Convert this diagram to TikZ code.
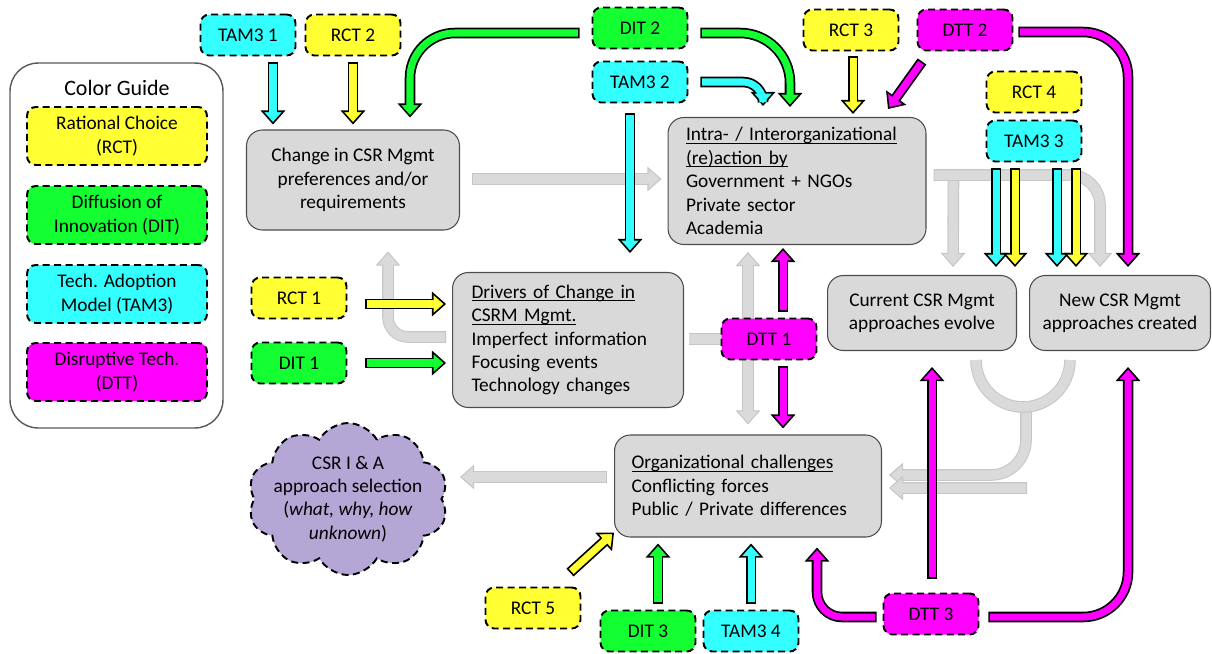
\documentclass[tikz,border=0pt]{standalone}
\usepackage{fontspec}
\setmainfont{Carlito}
\usetikzlibrary{arrows.meta, calc, positioning, shapes.symbols, backgrounds}

\definecolor{rctyellow}{RGB}{255,255,51}
\definecolor{ditgreen}{RGB}{20,255,50}
\definecolor{tamcyan}{RGB}{51,255,255}
\definecolor{dttmagenta}{RGB}{255,0,255}
\definecolor{boxgray}{RGB}{217,217,217}
\definecolor{cloudlav}{RGB}{180,167,214}
\definecolor{ghostfill}{RGB}{218,218,218}
\definecolor{ghostline}{RGB}{198,198,198}

\newcommand{\headline}[1]{\underline{\smash{#1}}\vphantom{#1}}

\tikzset{
  tag/.style={draw=black, fill=#1, line width=1.1pt, dash pattern=on 4pt off 2.5pt, rounded corners=5pt, minimum width=1.9cm, minimum height=0.82cm, inner sep=0pt},
  legend/.style={tag=#1, minimum width=3.6cm, minimum height=1.16cm, align=center},
  stage/.style={draw=black!70, fill=boxgray, line width=0.6pt, rounded corners=9pt, inner sep=0pt},
  fat/.style={draw=#1, line width=4pt, shorten <=1pt, shorten >=6.5pt,
    preaction={draw=black, line width=6pt, shorten <=0pt, shorten >=0pt,
      -{Triangle[length=8pt, width=14pt, line width=0.9pt, fill=#1]}}},
  ghost/.style={draw=ghostfill, line width=5.4pt, shorten <=0.6pt, shorten >=7pt,
    preaction={draw=ghostline, line width=6.6pt, shorten <=0pt, shorten >=0pt,
      -{Triangle[length=8pt, width=14pt, line width=0.6pt, fill=ghostfill]}}},
  ghostbar/.style={draw=ghostfill, line width=5.4pt, preaction={draw=ghostline, line width=6.6pt}},
}

\begin{document}
\begin{tikzpicture}[x=0.02cm, y=-0.02cm, font=\fontsize{11}{13.3}\selectfont]
\useasboundingbox (0,0) rectangle (1212,653);

% Color guide
\node[draw=black!65, line width=0.8pt, rounded corners=16pt, minimum width=4.26cm, minimum height=7.3cm] (guide) at (116.5,245.5) {};
\node[font=\fontsize{12.5}{15}\selectfont] (guidetitle) at (117,88) {Color Guide};
\node[legend=rctyellow] (legrct) at (117,136) {Rational Choice\\(RCT)};
\node[legend=ditgreen] (legdit) at (117,215) {Diffusion of\\Innovation (DIT)};
\node[legend=tamcyan] (legtam) at (117,294) {Tech. Adoption\\Model (TAM3)};
\node[legend=dttmagenta] (legdtt) at (117,372) {Disruptive Tech.\\(DTT)};

% Stages
\node[stage, minimum width=4.26cm, minimum height=2cm, align=center] (change) at (353,180) {Change in CSR Mgmt\\preferences and/or\\requirements};
\node[stage, minimum width=5.16cm, minimum height=2.54cm, text width=4.44cm, align=left] (intra) at (797,181) {\headline{Intra- / Interorganizational}\\\headline{(re)action by}\\Government + NGOs\\Private sector\\Academia};
\node[stage, minimum width=4.62cm, minimum height=2.7cm, text width=3.86cm, align=left] (drivers) at (568,340) {\headline{Drivers of Change in}\\\headline{CSRM Mgmt.}\\Imperfect information\\Focusing events\\Technology changes};
\node[stage, minimum width=3.78cm, minimum height=1.5cm, align=center] (current) at (922,313) {Current CSR Mgmt\\approaches evolve};
\node[stage, minimum width=3.62cm, minimum height=1.5cm, align=center] (newcsr) at (1120,313) {New CSR Mgmt\\approaches created};
\node[stage, minimum width=5.34cm, minimum height=2.04cm, text width=4.66cm, align=left] (org) at (748,486) {\headline{Organizational challenges}\\Conflicting forces\\Public / Private differences};
\node[cloud, cloud puffs=10, cloud puff arc=120, cloud ignores aspect, draw=black, fill=cloudlav, line width=1.1pt, dash pattern=on 4pt off 2.5pt, inner sep=-20pt, minimum width=4cm, minimum height=3.04cm, align=center] (cloud) at (348,499) {CSR I \& A\\approach selection\\(\textit{what, why, how}\\\textit{unknown})};

% Theory tags
\node[tag=tamcyan] (tam1) at (248,35) {TAM3 1};
\node[tag=rctyellow] (rct2) at (353,35) {RCT 2};
\node[tag=ditgreen] (dit2) at (640,28) {DIT 2};
\node[tag=tamcyan] (tam2) at (640,82) {TAM3 2};
\node[tag=rctyellow] (rct3) at (851,30) {RCT 3};
\node[tag=dttmagenta] (dtt2) at (965,30) {DTT 2};
\node[tag=rctyellow] (rct4) at (1034,92) {RCT 4};
\node[tag=tamcyan] (tam3) at (1034,141) {TAM3 3};
\node[tag=rctyellow] (rct1) at (299,298) {RCT 1};
\node[tag=ditgreen] (dit1) at (299,363) {DIT 1};
\node[tag=dttmagenta] (dtt1) at (769,339) {DTT 1};
\node[tag=rctyellow] (rct5) at (533,608) {RCT 5};
\node[tag=ditgreen] (dit3) at (648,631) {DIT 3};
\node[tag=tamcyan] (tam4) at (751,631) {TAM3 4};
\node[tag=dttmagenta] (dtt3) at (931,614) {DTT 3};

\coordinate (hub) at ($(dtt1.center)+(-21,0)$);
\coordinate (ubase) at ($(current.south)+(104,56)$);

% Process flow (grey)
\begin{scope}[on background layer]
\draw[ghost] ($(change.east)+(12,-1)$) -- ($(intra.west)+(-6,-2)$);
\draw[ghost, rounded corners=0.4cm] ($(drivers.west)+(-6,-3)$) -| ($(change.south)+(35,21)$);
\draw[ghostbar] ($(drivers.east)+(5,-1)$) -- (hub);
\draw[ghost] (hub) -- ($(intra.south)+(-49,7)$);
\draw[ghost] (hub) -- ($(org.north)+(0,-10)$);
\draw[ghost] ($(org.west)+(-7,-9)$) -- ($(cloud.center)+(112,-22)$);
\draw[ghost] ($(intra.east)+(27,-6)$) -- ($(current.north)+(31,-8)$);
\draw[ghost, rounded corners=0.6cm] ($(intra.east)+(7,-6)$) -| ($(newcsr.north)+(-20,-8)$);
\draw[ghost, rounded corners=0.7cm] (ubase) |- ($(org.east)+(7,-11)$);
\draw[ghost] ($(ubase)+(1,81)$) -- ($(org.east)+(7,2)$);
\draw[ghostbar] ($(current.south)+(54,9)$) arc[start angle=180, end angle=0, radius=47];
\end{scope}

% Theory influences
\draw[fat=tamcyan] ($(tam1.south)+(25,6)$) -- ($(change.north)+(-80,-5)$);
\draw[fat=rctyellow] ($(rct2.south)+(0,6)$) -- ($(change.north)+(0,-5)$);
\draw[fat=ditgreen, rounded corners=0.9cm] ($(dit2.west)+(-12,5)$) -| ($(change.north)+(57,-12)$);
\draw[fat=ditgreen, rounded corners=1cm] ($(dit2.east)+(12,5)$) -| ($(intra.north)+(-7,-10)$);
\draw[fat=tamcyan, rounded corners=0.4cm] ($(tam2.east)+(12,0)$) -| ($(intra.north)+(-34,-11)$);
\draw[fat=tamcyan] ($(tam2.south)+(-10,10)$) -- ($(drivers.north)+(62,-19)$);
\draw[fat=rctyellow] ($(rct3.south)+(2,5)$) -- ($(intra.north)+(56,-3)$);
\draw[fat=dttmagenta] ($(dtt2.south)+(-43,10)$) -- ($(intra.north)+(91,-8)$);
\draw[fat=dttmagenta, rounded corners=0.9cm] ($(dtt2.east)+(5,2)$) -| ($(newcsr.north)+(8,-8)$);
\draw[fat=tamcyan] ($(tam3.south)+(-38,6)$) -- ($(current.north)+(74,-8)$);
\draw[fat=rctyellow] ($(rct4.south)+(-19,55)$) -- ($(current.north)+(93,-8)$);
\draw[fat=tamcyan] ($(tam3.south)+(23,6)$) -- ($(newcsr.north)+(-63,-8)$);
\draw[fat=rctyellow] ($(rct4.south)+(42,55)$) -- ($(newcsr.north)+(-44,-8)$);
\draw[fat=rctyellow] ($(rct1.east)+(18,6)$) -- ($(drivers.west)+(-6,-36)$);
\draw[fat=ditgreen] ($(dit1.east)+(18,0)$) -- ($(drivers.west)+(-6,23)$);
\draw[fat=dttmagenta] ($(dtt1.north)+(14,-6)$) -- ($(intra.south)+(-14,3)$);
\draw[fat=dttmagenta] ($(dtt1.south)+(14,6)$) -- ($(org.north)+(35,-6)$);
\draw[fat=rctyellow] ($(rct5.north)+(37,-14)$) -- ($(org.south west)+(0,-5)$);
\draw[fat=ditgreen] ($(dit3.north)+(10,-6)$) -- ($(org.south)+(-90,6)$);
\draw[fat=tamcyan] ($(tam4.north)+(0,-6)$) -- ($(org.south)+(3,6)$);
\draw[fat=dttmagenta, rounded corners=0.5cm] ($(dtt3.west)+(-6,3)$) -| ($(org.south)+(69,10)$);
\draw[fat=dttmagenta] ($(dtt3.north)+(1,-14)$) -- ($(current.south)+(10,16)$);
\draw[fat=dttmagenta, rounded corners=0.9cm] ($(dtt3.east)+(9,3)$) -| ($(newcsr.south)+(8,16)$);
\end{tikzpicture}
\end{document}
